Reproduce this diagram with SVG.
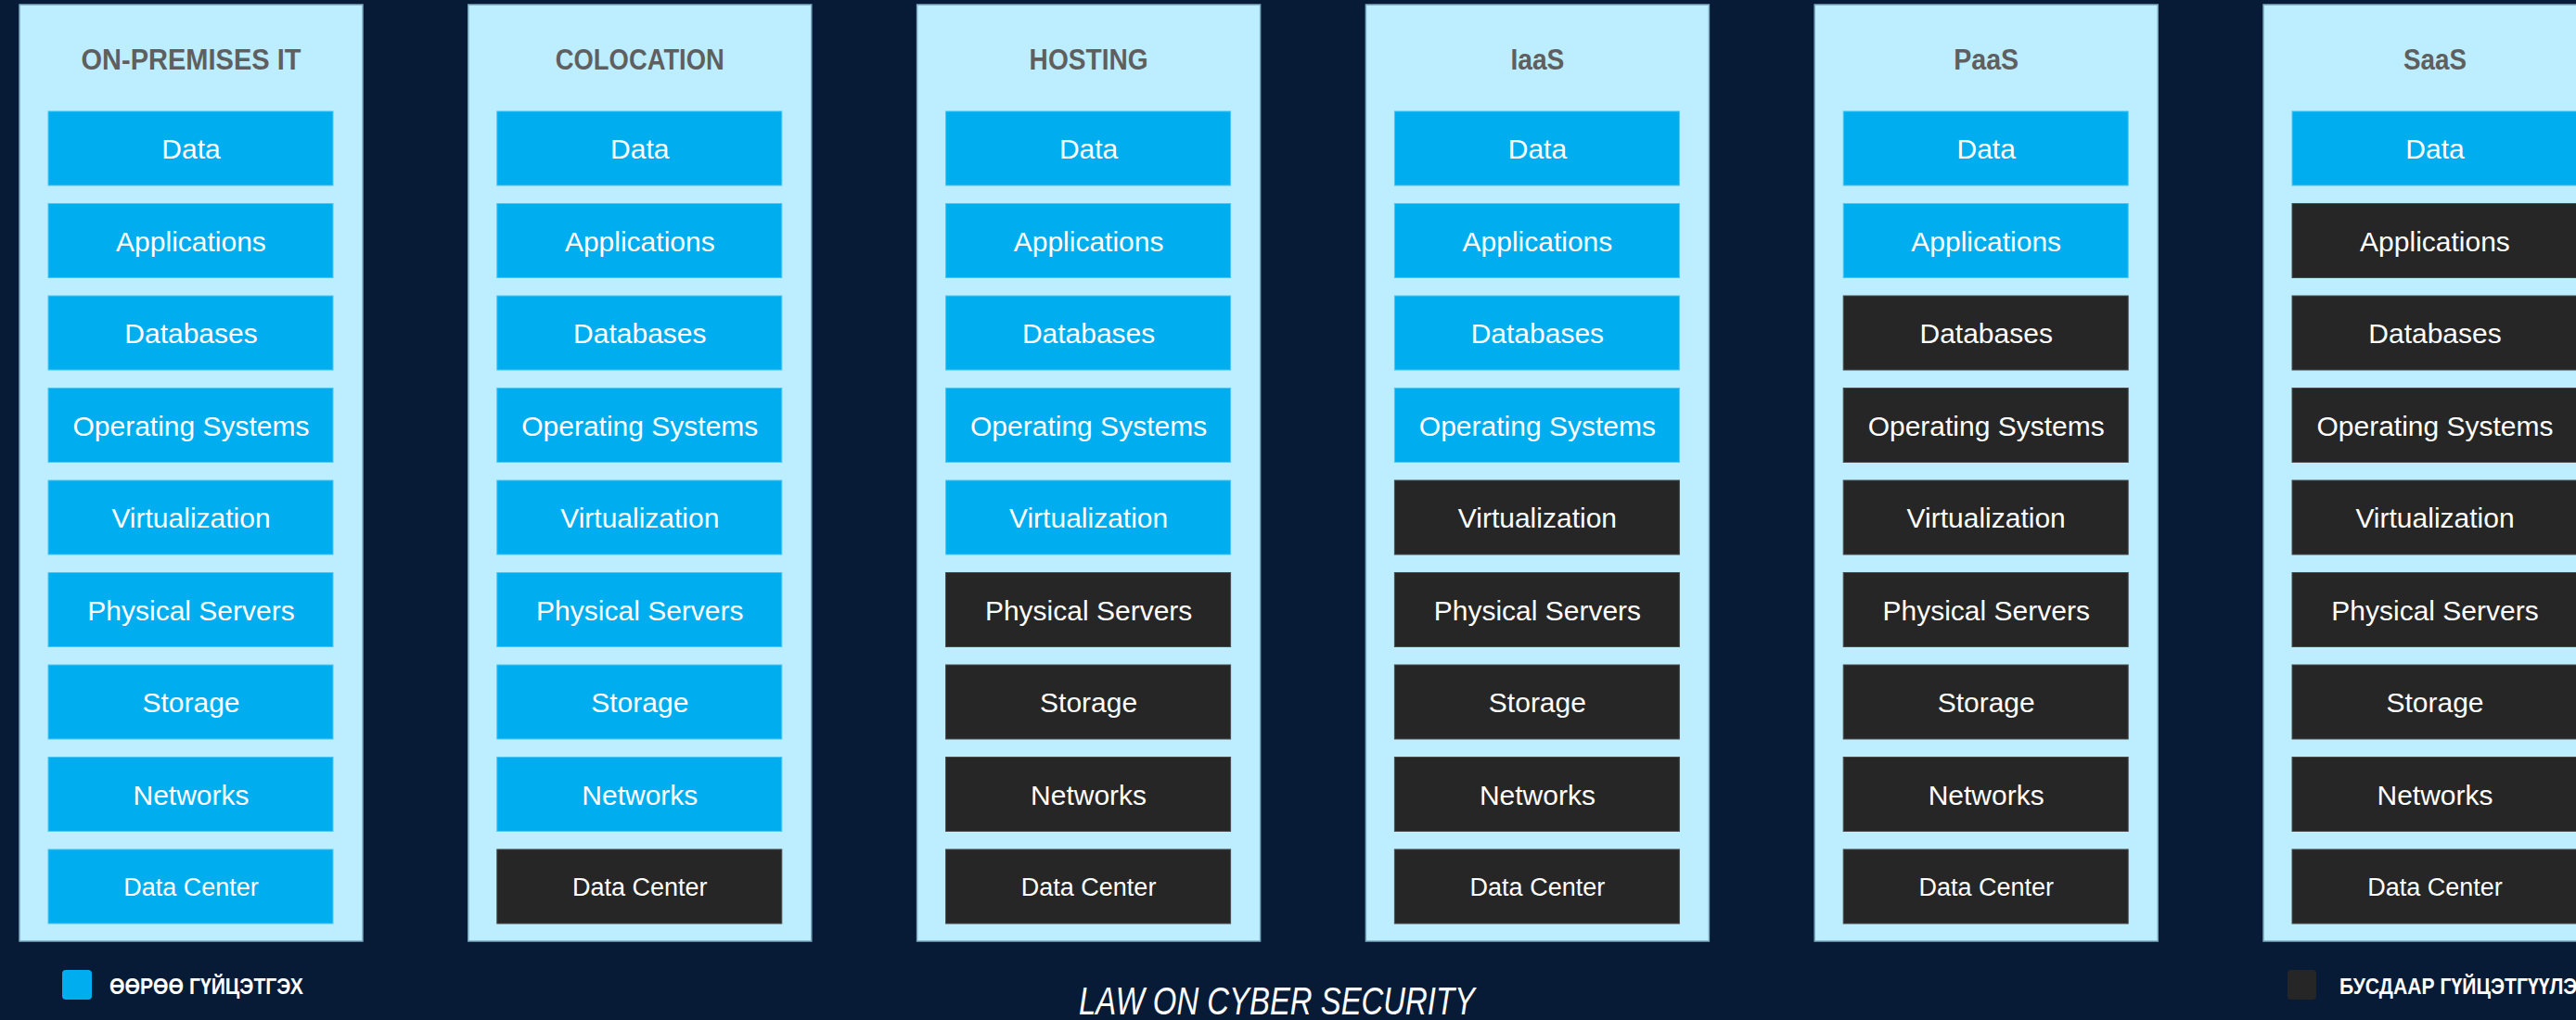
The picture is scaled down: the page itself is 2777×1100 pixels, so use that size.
<svg xmlns="http://www.w3.org/2000/svg" width="2777" height="1100" viewBox="0 0 2777 1100">
<style>
.bg{fill:#071b36}
.col{fill:#bdeeff;stroke:#7aa8c0;stroke-width:1.5}
.b{fill:#00aeef;stroke:#4cc6f2;stroke-width:1}
.k{fill:#262626;stroke:#4a4a4a;stroke-width:1}
.h{font-family:"Liberation Sans",Arial,sans-serif;font-weight:bold;font-size:31px;fill:#5f5f5f;text-anchor:middle}
.t{font-family:"Liberation Sans",Arial,sans-serif;font-size:30px;fill:#ffffff;text-anchor:middle}
.s{font-size:27px}
.lg{font-family:"Liberation Sans",Arial,sans-serif;font-weight:bold;font-size:23px;fill:#ffffff}
.law{font-family:"Liberation Sans Narrow","Liberation Sans",Arial,sans-serif;font-style:italic;font-size:43px;fill:#ffffff;text-anchor:middle}
</style>
<rect class="bg" x="0" y="0" width="2777" height="1100"/>

<g id="col-onprem" transform="translate(21,0)">
<rect class="col" x="0" y="5" width="370" height="1010"/>
<text class="h" x="185" y="75" textLength="237" lengthAdjust="spacingAndGlyphs">ON-PREMISES IT</text>
<rect class="b" x="31" y="120" width="307" height="80"/><text class="t" x="185" y="171">Data</text>
<rect class="b" x="31" y="219.5" width="307" height="80"/><text class="t" x="185" y="270.5">Applications</text>
<rect class="b" x="31" y="319" width="307" height="80"/><text class="t" x="185" y="370">Databases</text>
<rect class="b" x="31" y="418.5" width="307" height="80"/><text class="t" x="185" y="469.5">Operating Systems</text>
<rect class="b" x="31" y="518" width="307" height="80"/><text class="t" x="185" y="569">Virtualization</text>
<rect class="b" x="31" y="617.5" width="307" height="80"/><text class="t" x="185" y="668.5">Physical Servers</text>
<rect class="b" x="31" y="717" width="307" height="80"/><text class="t" x="185" y="768">Storage</text>
<rect class="b" x="31" y="816.5" width="307" height="80"/><text class="t" x="185" y="867.5">Networks</text>
<rect class="b" x="31" y="916" width="307" height="80"/><text class="t s" x="185" y="966">Data Center</text>
</g>

<g id="col-colocation" transform="translate(504.8,0)">
<rect class="col" x="0" y="5" width="370" height="1010"/>
<text class="h" x="185" y="75" textLength="182" lengthAdjust="spacingAndGlyphs">COLOCATION</text>
<rect class="b" x="31" y="120" width="307" height="80"/><text class="t" x="185" y="171">Data</text>
<rect class="b" x="31" y="219.5" width="307" height="80"/><text class="t" x="185" y="270.5">Applications</text>
<rect class="b" x="31" y="319" width="307" height="80"/><text class="t" x="185" y="370">Databases</text>
<rect class="b" x="31" y="418.5" width="307" height="80"/><text class="t" x="185" y="469.5">Operating Systems</text>
<rect class="b" x="31" y="518" width="307" height="80"/><text class="t" x="185" y="569">Virtualization</text>
<rect class="b" x="31" y="617.5" width="307" height="80"/><text class="t" x="185" y="668.5">Physical Servers</text>
<rect class="b" x="31" y="717" width="307" height="80"/><text class="t" x="185" y="768">Storage</text>
<rect class="b" x="31" y="816.5" width="307" height="80"/><text class="t" x="185" y="867.5">Networks</text>
<rect class="k" x="31" y="916" width="307" height="80"/><text class="t s" x="185" y="966">Data Center</text>
</g>

<g id="col-hosting" transform="translate(988.6,0)">
<rect class="col" x="0" y="5" width="370" height="1010"/>
<text class="h" x="185" y="75" textLength="128" lengthAdjust="spacingAndGlyphs">HOSTING</text>
<rect class="b" x="31" y="120" width="307" height="80"/><text class="t" x="185" y="171">Data</text>
<rect class="b" x="31" y="219.5" width="307" height="80"/><text class="t" x="185" y="270.5">Applications</text>
<rect class="b" x="31" y="319" width="307" height="80"/><text class="t" x="185" y="370">Databases</text>
<rect class="b" x="31" y="418.5" width="307" height="80"/><text class="t" x="185" y="469.5">Operating Systems</text>
<rect class="b" x="31" y="518" width="307" height="80"/><text class="t" x="185" y="569">Virtualization</text>
<rect class="k" x="31" y="617.5" width="307" height="80"/><text class="t" x="185" y="668.5">Physical Servers</text>
<rect class="k" x="31" y="717" width="307" height="80"/><text class="t" x="185" y="768">Storage</text>
<rect class="k" x="31" y="816.5" width="307" height="80"/><text class="t" x="185" y="867.5">Networks</text>
<rect class="k" x="31" y="916" width="307" height="80"/><text class="t s" x="185" y="966">Data Center</text>
</g>

<g id="col-iaas" transform="translate(1472.4,0)">
<rect class="col" x="0" y="5" width="370" height="1010"/>
<text class="h" x="185" y="75" textLength="58" lengthAdjust="spacingAndGlyphs">IaaS</text>
<rect class="b" x="31" y="120" width="307" height="80"/><text class="t" x="185" y="171">Data</text>
<rect class="b" x="31" y="219.5" width="307" height="80"/><text class="t" x="185" y="270.5">Applications</text>
<rect class="b" x="31" y="319" width="307" height="80"/><text class="t" x="185" y="370">Databases</text>
<rect class="b" x="31" y="418.5" width="307" height="80"/><text class="t" x="185" y="469.5">Operating Systems</text>
<rect class="k" x="31" y="518" width="307" height="80"/><text class="t" x="185" y="569">Virtualization</text>
<rect class="k" x="31" y="617.5" width="307" height="80"/><text class="t" x="185" y="668.5">Physical Servers</text>
<rect class="k" x="31" y="717" width="307" height="80"/><text class="t" x="185" y="768">Storage</text>
<rect class="k" x="31" y="816.5" width="307" height="80"/><text class="t" x="185" y="867.5">Networks</text>
<rect class="k" x="31" y="916" width="307" height="80"/><text class="t s" x="185" y="966">Data Center</text>
</g>

<g id="col-paas" transform="translate(1956.2,0)">
<rect class="col" x="0" y="5" width="370" height="1010"/>
<text class="h" x="185" y="75" textLength="70" lengthAdjust="spacingAndGlyphs">PaaS</text>
<rect class="b" x="31" y="120" width="307" height="80"/><text class="t" x="185" y="171">Data</text>
<rect class="b" x="31" y="219.5" width="307" height="80"/><text class="t" x="185" y="270.5">Applications</text>
<rect class="k" x="31" y="319" width="307" height="80"/><text class="t" x="185" y="370">Databases</text>
<rect class="k" x="31" y="418.5" width="307" height="80"/><text class="t" x="185" y="469.5">Operating Systems</text>
<rect class="k" x="31" y="518" width="307" height="80"/><text class="t" x="185" y="569">Virtualization</text>
<rect class="k" x="31" y="617.5" width="307" height="80"/><text class="t" x="185" y="668.5">Physical Servers</text>
<rect class="k" x="31" y="717" width="307" height="80"/><text class="t" x="185" y="768">Storage</text>
<rect class="k" x="31" y="816.5" width="307" height="80"/><text class="t" x="185" y="867.5">Networks</text>
<rect class="k" x="31" y="916" width="307" height="80"/><text class="t s" x="185" y="966">Data Center</text>
</g>

<g id="col-saas" transform="translate(2440,0)">
<rect class="col" x="0" y="5" width="370" height="1010"/>
<text class="h" x="185" y="75" textLength="68" lengthAdjust="spacingAndGlyphs">SaaS</text>
<rect class="b" x="31" y="120" width="307" height="80"/><text class="t" x="185" y="171">Data</text>
<rect class="k" x="31" y="219.5" width="307" height="80"/><text class="t" x="185" y="270.5">Applications</text>
<rect class="k" x="31" y="319" width="307" height="80"/><text class="t" x="185" y="370">Databases</text>
<rect class="k" x="31" y="418.5" width="307" height="80"/><text class="t" x="185" y="469.5">Operating Systems</text>
<rect class="k" x="31" y="518" width="307" height="80"/><text class="t" x="185" y="569">Virtualization</text>
<rect class="k" x="31" y="617.5" width="307" height="80"/><text class="t" x="185" y="668.5">Physical Servers</text>
<rect class="k" x="31" y="717" width="307" height="80"/><text class="t" x="185" y="768">Storage</text>
<rect class="k" x="31" y="816.5" width="307" height="80"/><text class="t" x="185" y="867.5">Networks</text>
<rect class="k" x="31" y="916" width="307" height="80"/><text class="t s" x="185" y="966">Data Center</text>
</g>

<g id="legend-self">
<rect x="67" y="1046" width="32" height="32" rx="4" fill="#00aeef"/>
<text class="lg" x="118" y="1072" textLength="209" lengthAdjust="spacingAndGlyphs">ӨӨРӨӨ ГҮЙЦЭТГЭХ</text>
</g>
<g id="legend-other">
<rect x="2466" y="1046" width="31" height="32" rx="4" fill="#262626"/>
<text class="lg" x="2522" y="1072" textLength="270" lengthAdjust="spacingAndGlyphs">БУСДААР ГҮЙЦЭТГҮҮЛЭХ</text>
</g>
<g id="footer">
<text class="law" x="1376.5" y="1094" textLength="427" lengthAdjust="spacingAndGlyphs">LAW ON CYBER SECURITY</text>
</g>
<g id="connectors"/>
</svg>
